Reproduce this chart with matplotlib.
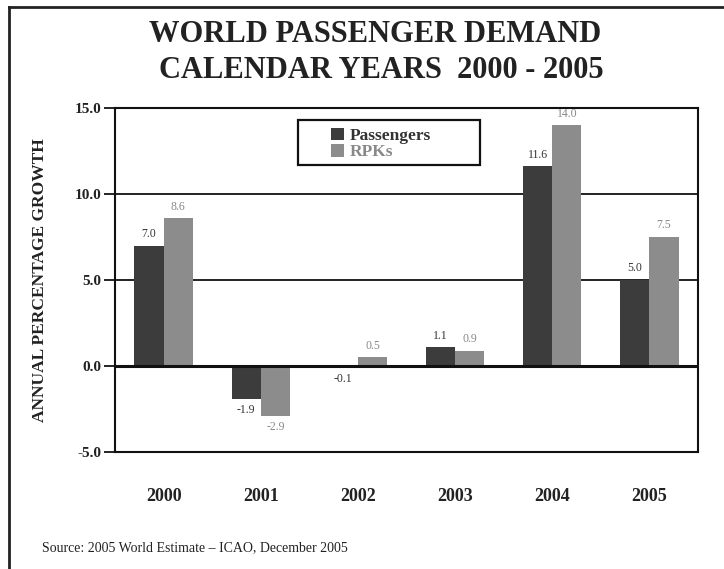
import matplotlib
matplotlib.use("Agg")
import matplotlib.pyplot as plt
from matplotlib.lines import Line2D
from matplotlib.patches import Rectangle
import numpy as np

years = ["2000", "2001", "2002", "2003", "2004", "2005"]
passengers = [7.0, -1.9, -0.1, 1.1, 11.6, 5.0]
rpks = [8.6, -2.9, 0.5, 0.9, 14.0, 7.5]
yticks = [-5.0, 0.0, 5.0, 10.0, 15.0]

serif = ["Liberation Serif", "DejaVu Serif"]
plt.rcParams["font.family"] = serif

W, H = 724, 569
fig = plt.figure(figsize=(W / 100, H / 100), dpi=100)
fig.patch.set_facecolor("white")

# outer frame (top and left edges)
fig.add_artist(Line2D([9 / W, 1.0], [1 - 7 / H, 1 - 7 / H], transform=fig.transFigure, color="#222222", lw=2))
fig.add_artist(Line2D([9 / W, 9 / W], [1 - 7 / H, 0.0], transform=fig.transFigure, color="#222222", lw=2))

AX_L, AX_R, AX_T, AX_B = 115, 698, 108, 452
ax = fig.add_axes([AX_L / W, 1 - AX_B / H, (AX_R - AX_L) / W, (AX_B - AX_T) / H])
AW, AH = AX_R - AX_L, AX_B - AX_T

x = np.arange(len(years))
w = 0.3
c_pass = "#3c3c3c"
c_rpk = "#8c8c8c"
ax.bar(x - w / 2, passengers, w, color=c_pass, label="Passengers", zorder=3)
ax.bar(x + w / 2, rpks, w, color=c_rpk, label="RPKs", zorder=3)

for xi, v in zip(x - w / 2, passengers):
    ax.annotate(f"{v:.1f}", (xi, v), xytext=(0, 4 if v >= 0 else -4), textcoords="offset points",
                ha="center", va="bottom" if v >= 0 else "top", fontsize=8.5, color="#333333", zorder=4)
for xi, v in zip(x + w / 2, rpks):
    ax.annotate(f"{v:.1f}", (xi, v), xytext=(0, 4 if v >= 0 else -4), textcoords="offset points",
                ha="center", va="bottom" if v >= 0 else "top", fontsize=8.5, color="#888888", zorder=4)

ax.set_xlim(-0.5, len(years) - 0.5)
ax.set_ylim(-5, 15)
ax.set_yticks(yticks)
ax.set_yticklabels([f"{t:.1f}" for t in yticks], fontsize=11, fontweight="bold", color="#222222")
ax.set_xticks(x)
ax.set_xticklabels(years, fontsize=13, fontweight="bold", color="#222222")
ax.tick_params(axis="x", length=0, pad=26)
ax.tick_params(axis="y", length=8, width=1.2, direction="out", pad=2)

for yv in [5.0, 10.0]:
    ax.axhline(yv, color="#111111", lw=1.3, zorder=1)
ax.axhline(0, color="#111111", lw=2.2, zorder=4)

for s in ax.spines.values():
    s.set_color("#111111")
    s.set_linewidth(1.5)

ax.set_ylabel("ANNUAL PERCENTAGE GROWTH", fontsize=12.5, fontweight="bold", color="#222222", labelpad=19)

# legend box
ax.add_patch(Rectangle(((298 - AX_L) / AW, 1 - (165 - AX_T) / AH), (480 - 298) / AW, (165 - 120) / AH,
                       transform=ax.transAxes, facecolor="white", edgecolor="#111111", lw=1.6, zorder=5))
leg = ax.legend(loc="upper left", bbox_to_anchor=((328 - AX_L) / AW, 1 - (125 - AX_T) / AH),
                frameon=False, fontsize=12.5,
                handlelength=0.75, handleheight=0.75, handletextpad=0.35, borderpad=0.15,
                labelspacing=0.0, borderaxespad=0)
leg.set_zorder(6)
for t, c in zip(leg.get_texts(), ["#333333", "#888888"]):
    t.set_color(c)
    t.set_fontweight("bold")

fig.text(375.5 / W, 1 - 35 / H, "WORLD PASSENGER DEMAND", ha="center", va="center",
         fontsize=22, fontweight="bold", color="#222222")
fig.text(381.5 / W, 1 - 70 / H, "CALENDAR YEARS  2000 - 2005", ha="center", va="center",
         fontsize=22, fontweight="bold", color="#222222")

fig.text(42 / W, 1 - 548 / H, "Source: 2005 World Estimate \u2013 ICAO, December 2005", ha="left", va="center",
         fontsize=10, color="#222222")

fig.savefig("out.png", dpi=100)
